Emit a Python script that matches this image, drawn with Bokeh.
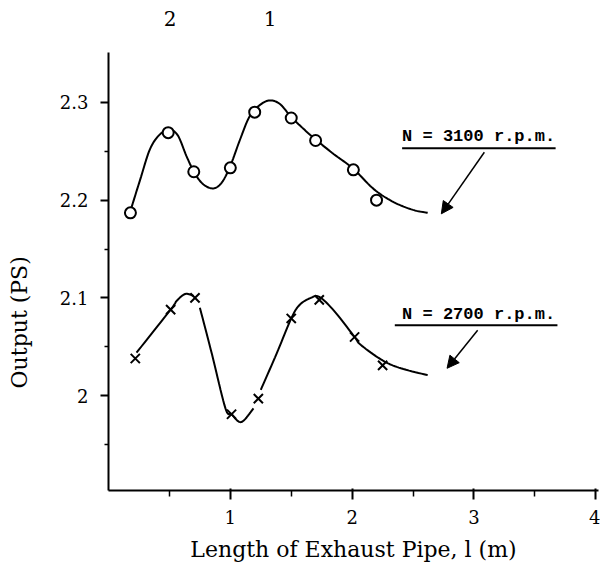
from bokeh.plotting import figure
from bokeh.models import Range1d, FixedTicker, Label, Arrow, NormalHead, LinearAxis
from bokeh.embed import file_html
from bokeh.resources import INLINE

nan = float("nan")

# measured points, N = 3100 r.p.m. (circles)
x_3100 = [0.18, 0.49, 0.70, 1.00, 1.20, 1.50, 1.70, 2.01, 2.20]
y_3100 = [2.187, 2.269, 2.229, 2.233, 2.290, 2.284, 2.261, 2.231, 2.200]

# measured points, N = 2700 r.p.m. (crosses)
x_2700 = [0.22, 0.51, 0.71, 1.01, 1.23, 1.50, 1.73, 2.02, 2.25]
y_2700 = [2.038, 2.088, 2.100, 1.981, 1.997, 2.079, 2.098, 2.060, 2.031]

# hand-drawn fitted curves
curve_3100_x = [0.19, 0.26, 0.34, 0.42, 0.50, 0.57, 0.64, 0.71, 0.78, 0.86, 0.93, 1.00,
                1.08, 1.16, 1.25, 1.33, 1.41, 1.50, 1.60, 1.70, 1.85, 2.01, 2.18, 2.34, 2.50, 2.62]
curve_3100_y = [2.193, 2.221, 2.252, 2.267, 2.272, 2.266, 2.245, 2.227, 2.216, 2.212, 2.218, 2.235,
                2.262, 2.286, 2.298, 2.302, 2.298, 2.285, 2.273, 2.262, 2.247, 2.232, 2.211, 2.198, 2.190, 2.187]

curve_2700_x = [0.23, 0.51, 0.56, 0.63, 0.70, nan, 0.75, 0.85, 0.96, 1.01, 1.09, 1.19, nan,
                1.25, 1.38, 1.50, 1.57, 1.66, 1.73, 1.85, 2.02, 2.07, 2.25, 2.40, 2.62]
curve_2700_y = [2.044, 2.088, 2.097, 2.104, 2.102, nan, 2.090, 2.042, 1.987, 1.981, 1.973, 1.987, nan,
                2.006, 2.043, 2.079, 2.093, 2.100, 2.101, 2.087, 2.060, 2.052, 2.036, 2.028, 2.021]

# axis ticks
x_ticks = [1, 2, 3, 4]
x_minor = [0.5, 1.5, 2.5, 3.5]
y_ticks = [2.0, 2.1, 2.2, 2.3]
y_minor = [1.95, 2.05, 2.15, 2.25]
y_tick_labels = ["2", "2.1", "2.2", "2.3"]

# curve annotations
curve_names = ["N = 3100 r.p.m.", "N = 2700 r.p.m."]
name_x = [2.41, 2.41]
name_y = [2.265, 2.0835]
underline_x0 = [2.41, 2.35]
underline_x1 = [3.67, 3.685]
underline_y = [2.253, 2.072]
arrow_x0 = [3.085, 3.03]
arrow_y0 = [2.249, 2.067]
arrow_x1 = [2.732, 2.779]
arrow_y1 = [2.186, 2.028]

# resonance order marks above the plot (at these lengths)
order_labels = ["2", "1"]
order_x = [0.505, 1.326]

# y axis title: placed at this output level (below the frame's centre, as in the original)
ytitle = "Output (PS)"
ytitle_y = 2.075

SERIF = "DejaVu Serif"


def smooth(xs, ys, n=10):
    """Catmull-Rom drawing of the hand-traced curve (keeps NaN gaps)."""
    segs, cur = [], []
    for x, y in zip(xs, ys):
        if x != x:
            segs.append(cur)
            cur = []
        else:
            cur.append((x, y))
    segs.append(cur)
    ox, oy = [], []
    for si, seg in enumerate(segs):
        if si > 0:
            ox.append(nan)
            oy.append(nan)
        pts = [seg[0]] + seg + [seg[-1]]
        for i in range(1, len(pts) - 2):
            p0, p1, p2, p3 = pts[i - 1], pts[i], pts[i + 1], pts[i + 2]
            for k in range(n):
                t = k / n
                t2, t3 = t * t, t * t * t
                vals = []
                for d in range(2):
                    vals.append(0.5 * ((2 * p1[d]) + (-p0[d] + p2[d]) * t +
                                       (2 * p0[d] - 5 * p1[d] + 4 * p2[d] - p3[d]) * t2 +
                                       (-p0[d] + 3 * p1[d] - 3 * p2[d] + p3[d]) * t3))
                ox.append(vals[0])
                oy.append(vals[1])
        ox.append(seg[-1][0])
        oy.append(seg[-1][1])
    return ox, oy


p = figure(width=600, height=566, output_backend="svg", toolbar_location=None,
           x_range=Range1d(0, 4.022), y_range=Range1d(1.903, 2.351),
           min_border_left=108, min_border_right=2, min_border_top=52, min_border_bottom=76)
p.background_fill_color = "white"
p.border_fill_color = "white"
p.outline_line_color = None
p.xgrid.visible = False
p.ygrid.visible = False

# curves
sx, sy = smooth(curve_3100_x, curve_3100_y)
p.line(sx, sy, line_color="black", line_width=2)
sx, sy = smooth(curve_2700_x, curve_2700_y)
p.line(sx, sy, line_color="black", line_width=2)

# markers
p.scatter(x_3100, y_3100, marker="circle", size=11, fill_color="white",
          line_color="black", line_width=2)
p.scatter(x_2700, y_2700, marker="x", size=13, line_color="black", line_width=2)

# axes
p.xaxis.ticker = FixedTicker(ticks=x_ticks, minor_ticks=x_minor)
p.yaxis.ticker = FixedTicker(ticks=y_ticks, minor_ticks=y_minor)
p.yaxis.major_label_overrides = {t: s for t, s in zip(y_ticks, y_tick_labels)}

for ax in (p.xaxis[0], p.yaxis[0]):
    ax.axis_line_color = "black"
    ax.axis_line_width = 2
    ax.major_tick_line_color = "black"
    ax.major_tick_line_width = 2
    ax.minor_tick_line_color = "black"
    ax.minor_tick_line_width = 1.5
    ax.major_label_text_font = SERIF
    ax.major_label_text_font_size = "18px"
    ax.major_label_text_color = "black"
    ax.axis_label_text_font = SERIF
    ax.axis_label_text_font_size = "22px"
    ax.axis_label_text_font_style = "normal"
    ax.axis_label_text_color = "black"

p.xaxis.major_tick_out = 9
p.xaxis.major_tick_in = 2
p.xaxis.minor_tick_out = 6
p.xaxis.minor_tick_in = 0
p.xaxis.major_label_standoff = 10
p.xaxis.axis_label = "Length of Exhaust Pipe, l (m)"
p.xaxis.axis_label_standoff = 10

p.yaxis.major_tick_out = 8
p.yaxis.major_tick_in = 0
p.yaxis.minor_tick_out = 4
p.yaxis.minor_tick_in = 0
p.yaxis.major_label_standoff = 12


def bare_axis(ticks, labels, size, standoff, orientation="horizontal"):
    ax = LinearAxis(ticker=FixedTicker(ticks=ticks),
                    major_label_overrides={t: s for t, s in zip(ticks, labels)})
    ax.axis_line_color = None
    ax.major_tick_line_color = None
    ax.minor_tick_line_color = None
    ax.major_tick_out = 0
    ax.major_tick_in = 0
    ax.minor_tick_out = 0
    ax.minor_tick_in = 0
    ax.major_label_text_font = SERIF
    ax.major_label_text_font_size = size
    ax.major_label_text_color = "black"
    ax.major_label_standoff = standoff
    ax.major_label_orientation = orientation
    return ax


# y title (outer left axis carrying one label)
p.add_layout(bare_axis([ytitle_y], [ytitle], "22px", 24, "vertical"), "left")

# order numbers above the frame
p.add_layout(bare_axis(order_x, order_labels, "20px", 27), "above")

# curve name labels, underlines, arrows
for t, x, y in zip(curve_names, name_x, name_y):
    p.add_layout(Label(x=x, y=y, text=t, text_font="Liberation Mono", text_font_style="bold",
                       text_font_size="17px", text_baseline="middle", text_align="left",
                       text_color="black"))
p.segment(x0=underline_x0, y0=underline_y, x1=underline_x1, y1=underline_y,
          line_color="black", line_width=2)
for xs, ys, xe, ye in zip(arrow_x0, arrow_y0, arrow_x1, arrow_y1):
    p.add_layout(Arrow(end=NormalHead(size=12, fill_color="black", line_color="black"),
                       x_start=xs, y_start=ys, x_end=xe, y_end=ye,
                       line_color="black", line_width=1.5))

open("out.html", "w").write(file_html(p, INLINE))
